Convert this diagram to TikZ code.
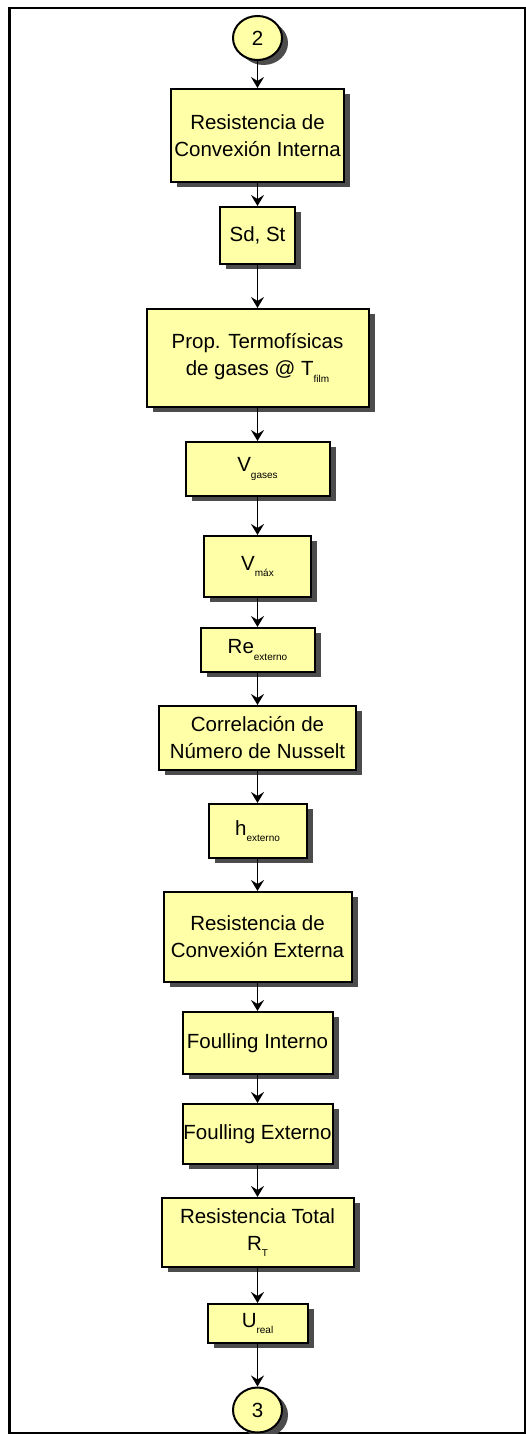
\documentclass[tikz,border=0pt]{standalone}
\usepackage{fontspec}
\setmainfont{Liberation Sans}
\usetikzlibrary{arrows.meta,shadows,shapes.geometric}
\definecolor{boxfill}{HTML}{FFFFA8}
\newcommand{\lowtxt}[1]{\raisebox{-0.3em}{\fontsize{10}{10}\selectfont #1}}
\tikzset{
  flowbox/.style={draw=black, line width=2pt, fill=boxfill, inner sep=0pt,
    align=center, font=\fontsize{20.5}{27}\selectfont,
    drop shadow={shadow xshift=6pt, shadow yshift=-5pt, fill=black!70, opacity=1}},
  connector/.style={ellipse, draw=black, line width=2pt, fill=boxfill, inner sep=0pt,
    font=\fontsize{20.5}{24}\selectfont,
    drop shadow={shadow xshift=6pt, shadow yshift=-5pt, fill=black!70, opacity=1}},
  arr/.style={line width=1.8pt, -{Stealth[length=11pt,width=13pt,inset=4pt]}},
  frame/.style={line width=2.5pt}
}
\begin{document}
\begin{tikzpicture}[x=1pt,y=-1pt]
\useasboundingbox (0,0) rectangle (526,1434);
\draw[frame] (9.5,8) rectangle (525,1433.5);
\node[connector, minimum width=49pt, minimum height=44pt] (c2) at (257.5,38) {2};
\node[flowbox, minimum width=173pt, minimum height=93pt] (b1) at (257.5,135.5) {Resistencia de\\Convexión Interna};
\node[flowbox, minimum width=75pt, minimum height=57pt] (b2) at (257.5,235.5) {Sd, St};
\node[flowbox, minimum width=222pt, minimum height=98pt] (b3) at (257.5,358) {Prop. Termofísicas\\de gases @ T\lowtxt{film}};
\node[flowbox, minimum width=144pt, minimum height=54pt] (b4) at (257.5,469) {V\lowtxt{gases}};
\node[flowbox, minimum width=107pt, minimum height=61pt] (b5) at (257.5,566.5) {V\lowtxt{máx}};
\node[flowbox, minimum width=114pt, minimum height=44pt] (b6) at (257.5,650) {Re\lowtxt{externo}};
\node[flowbox, minimum width=197pt, minimum height=64pt] (b7) at (257.5,738) {Correlación de\\Número de Nusselt};
\node[flowbox, minimum width=98pt, minimum height=54pt] (b8) at (257.5,831) {h\lowtxt{externo}};
\node[flowbox, minimum width=188pt, minimum height=90pt] (b9) at (257.5,937) {Resistencia de\\Convexión Externa};
\node[flowbox, minimum width=150pt, minimum height=62pt] (b10) at (257.5,1043) {Foulling Interno};
\node[flowbox, minimum width=150pt, minimum height=60pt] (b11) at (257.5,1134) {Foulling Externo};
\node[flowbox, minimum width=192pt, minimum height=69pt] (b12) at (257.5,1232.5) {Resistencia Total\\R\lowtxt{T}};
\node[flowbox, minimum width=100pt, minimum height=39pt] (b13) at (257.5,1323.5) {U\lowtxt{real}};
\node[connector, minimum width=49pt, minimum height=45pt] (c3) at (257.5,1410) {3};
\draw[arr] (c2) -- (b1);
\draw[arr] (b1) -- (b2);
\draw[arr] (b2) -- (b3);
\draw[arr] (b3) -- (b4);
\draw[arr] (b4) -- (b5);
\draw[arr] (b5) -- (b6);
\draw[arr] (b6) -- (b7);
\draw[arr] (b7) -- (b8);
\draw[arr] (b8) -- (b9);
\draw[arr] (b9) -- (b10);
\draw[arr] (b10) -- (b11);
\draw[arr] (b11) -- (b12);
\draw[arr] (b12) -- (b13);
\draw[arr] (b13) -- (c3);
\end{tikzpicture}
\end{document}
